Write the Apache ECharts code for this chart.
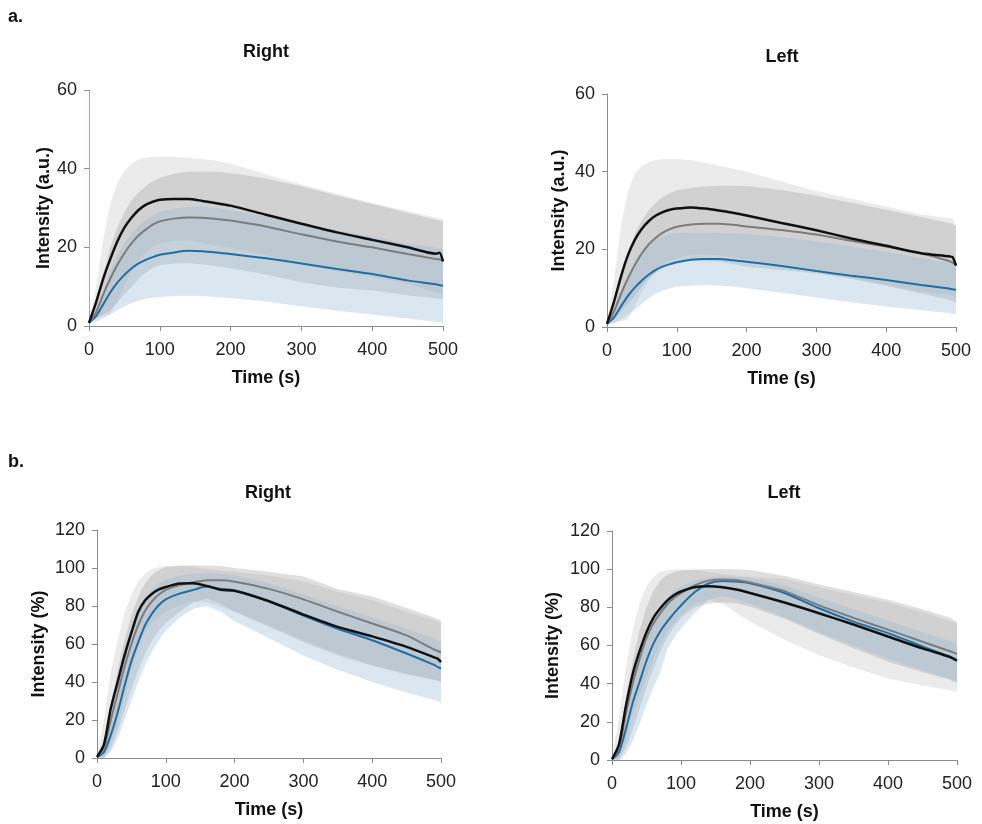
<!DOCTYPE html>
<html>
<head>
<meta charset="utf-8">
<script src="https://cdn.jsdelivr.net/npm/echarts@6/dist/echarts.min.js"></script>
<style>
  html, body { margin: 0; padding: 0; background: #fff; }
  #chart { width: 982px; height: 824px; }
</style>
</head>
<body>
<div id="chart"></div>
<script>
// time points (s), shared by all curves
var TIME = [0,10,20,30,40,50,60,70,80,90,100,120,140,160,180,200,250,300,350,400,450,490,495,500];

// ---- a / Right (a.u.) ----
var aR_black   = [0.8,6,12,17,21.5,25,27.5,29.5,30.8,31.6,32.1,32.3,32.3,31.8,31.2,30.6,28.3,26,23.8,21.9,20,18.4,18.6,16.4];
var aR_blackUp = [0.8,10,22,31,36.5,39.5,41.3,42.3,42.8,43,43.1,43,42.8,42.4,42,41.3,38.6,36,33.6,31.3,29.2,27.6,27.4,27.2];
var aR_blackLo = [0.8,2,2.5,3,6.5,10.5,13.7,16.7,18.8,20.2,21.1,21.6,21.8,21.2,20.4,19.9,18,16,14,12.5,10.8,8.5,8.3,8.1];
var aR_grey    = [0.8,3.5,8,12,15.5,18.5,21,23,24.5,25.8,26.6,27.3,27.6,27.5,27.2,26.8,25.3,23.3,21.5,20,18.3,17,16.9,16.7];
var aR_greyUp  = [0.8,5,13,20,25,29,32,34,35.5,36.8,37.7,38.7,39.2,39.3,39.2,38.9,37.5,35.5,33.2,31,28.8,27,26.8,26.6];
var aR_greyLo  = [0.8,2,3,4,6,8,10,12,13.5,14.8,15.5,15.9,16,15.7,15.2,14.7,13.1,11.1,9.8,9,7.8,7,7,6.8];
var aR_blue    = [0.8,2.5,5.5,8.5,11,13,14.6,15.9,16.8,17.5,18.1,18.7,19.1,19,18.7,18.3,17.2,15.9,14.5,13.2,11.6,10.6,10.4,10.2];
var aR_blueUp  = [0.8,4,9,14,18,21,23.5,25.5,27,28,29,29.8,30.3,30.3,30,29.5,27.8,26,24.3,22.7,21,19.9,19.8,19.6];
var aR_blueLo  = [0.8,1,2,3,4,5,5.8,6.4,6.9,7.2,7.4,7.6,7.7,7.6,7.4,7.1,6.2,5,3.9,2.9,1.9,1.1,1,0.8];

// ---- a / Left (a.u.) ----
var aL_black   = [0.8,6.5,13,18.5,22.5,25.3,27.3,28.7,29.6,30.2,30.5,30.8,30.5,30,29.4,28.7,26.8,24.9,22.8,20.9,19,18.2,18,15.8];
var aL_blackUp = [0.8,12,26,35,39.5,41.5,42.5,43,43.2,43.2,43.2,43,42.3,41.5,40.8,40,37.5,35,33,31,29,28,28,26];
var aL_blackLo = [0.8,1,1.5,2,5.5,9,12,14.4,16,17.2,17.8,18.6,18.7,18.5,18,17.4,16.1,14.8,12.6,10.8,9,8.4,8,7.6];
var aL_grey    = [0.8,4,8.5,12.5,16,19,21.3,23,24.3,25.2,25.8,26.4,26.6,26.6,26.3,25.9,25,23.8,22.2,20.7,19,17,16.6,16];
var aL_greyUp  = [0.8,6,13,19,24,27.5,30,32,33.5,34.5,35.2,35.8,36.2,36.4,36.4,36.3,35.3,33.8,32,30.2,28.3,26.8,26.5,26];
var aL_greyLo  = [0.8,2,4,6,8,10.5,12.6,14,15.1,15.9,16.4,17,17,16.8,16.2,15.5,14.7,13.8,12.4,10.6,8.6,7,6.6,6.2];
var aL_blue    = [0.8,2.5,5.3,8,10.2,12,13.5,14.7,15.6,16.2,16.7,17.3,17.5,17.5,17.2,16.8,15.7,14.4,13.2,12.1,10.8,9.9,9.7,9.6];
var aL_blueUp  = [0.8,4,9,13.5,17,19.5,21.3,22.6,23.4,23.9,24.2,24.3,24.3,24.2,24.1,24,23.2,22,20.7,19.3,17.8,16.5,16.2,16];
var aL_blueLo  = [0.8,1,2,3,4.5,6,7.5,8.6,9.4,10,10.4,10.7,10.8,10.7,10.4,10,8.8,7.6,6.4,5.3,4.3,3.6,3.4,3.2];

// ---- b / Right (%) ----
var bR_black   = [0.5,7,26,40,54,66,77,83,86.5,88.7,90,91.8,92,90.5,88.5,88,82.5,75.5,69,64,58.5,53,52.3,50.5];
var bR_blackUp = [0.5,20,45,62,76,86,93,97,99.5,100.5,101,101,100.5,99.5,98.5,98,96,93,87.5,83,77,72.5,71.8,71];
var bR_blackLo = [0.5,0,7,18,32,46,58,66,71,74.5,77,80.5,82.5,82,79.5,77,70,62,55,49,44.5,41.5,41,40];
var bR_grey    = [0.5,5,20,34,48,60,70,77.5,82.5,86,88.5,91,92.5,93.5,93.5,92.8,89,83.5,77,70.8,64.5,57,56.3,55.5];
var bR_greyUp  = [0.5,8,28,46,62,75,85,92,96.5,99,100.5,101.3,101.5,101.3,101,100,98,95.5,89,85,79,74,73.2,72.4];
var bR_greyLo  = [0.5,0,5,14,25,36,46,55,62,67,71,77,82,84,81,77,69,61,54,48.5,44,41,40.5,40];
var bR_blue    = [0.3,3,12,24,38,51,61,70,76,80.5,83.5,86.5,88.5,90.2,89,88.2,82.5,75,68,62,55,49,48,47];
var bR_blueUp  = [0.3,6,22,38,54,67,77,84,89,92,94,96,97,97.5,97,96,92,86,80,74,68,63,62,61];
var bR_blueLo  = [0.3,0,3,10,20,30,40,49,56,62,67,74,78.5,80,77,72,63,54,46.5,40,34.5,30.5,30,29];

// ---- b / Left (%) ----
var bL_black   = [0.5,8,28,45,57,67,74.5,79.5,83.5,86.5,88.3,90.5,91,90.5,89.3,87.5,82.5,76.9,71,64.7,58.5,54,53,52];
var bL_blackUp = [0.5,22,48,68,82,91,96,98.5,99.5,100,100,99.5,98.5,97.5,96.5,96,95,90.5,86.5,82.5,77.5,73,72.2,71.5];
var bL_blackLo = [0.5,0,10,24,34,44,53,61,67,72,76,82,84,82,77,72.5,63,55,48.5,42.7,39,36.5,36,35.8];
var bL_grey    = [0.5,6,24,40,53,64,71.5,77,81.5,85,87.5,91.5,94,94.6,94.3,93,88.5,81,74.5,68.3,62,57,56.3,55.6];
var bL_greyUp  = [0.5,10,32,52,68,80,88.5,94,97,98.5,99.3,99.8,100,100,100,99.6,96.5,92,88,84,79,74.5,73.5,72.5];
var bL_greyLo  = [0.5,0,6,16,27,38,48,57,64,70,74.5,80,82,82.5,82,80.5,74,66,58.5,51.5,46,42,41,40.3];
var bL_blue    = [0.3,4,16,30,41,52,61,67.5,72.5,77,81,88,92.5,93.8,93.5,92.6,87.5,79.5,72.5,66.5,59.5,54,53.3,52.5];
var bL_blueUp  = [0.3,6,22,38,52,64,73,80,85,88.5,91,94,95.5,96,96,95.5,91.5,85,79,73,67,62.5,62,61];
var bL_blueLo  = [0.3,0,3,10,19,29,38,46,58,64,69,77,84,86,84.5,82,75,67,60,53,47,42.5,42,41.5];

var FONT = "'Liberation Sans', Arial, sans-serif";
var BLACK = '#111111', GREY = '#7c7c7c', BLUE = '#1f6ea6';
var BAND_BLACK = 'rgba(190,190,190,0.3)';
var BAND_GREY = 'rgba(150,150,150,0.3)';
var BAND_BLUE = 'rgba(150,185,215,0.35)';

function pairs(arr) {
    return TIME.map(function (t, i) { return [t, arr[i]]; });
}

// shaded band between lo and up, drawn as a polygon through the axis scale
function band(g, lo, up, color) {
    return {
        type: 'custom', xAxisIndex: g, yAxisIndex: g, silent: true, z: 1,
        data: [0],
        renderItem: function (params, api) {
            var pts = [];
            for (var i = 0; i < TIME.length; i++) pts.push(api.coord([TIME[i], up[i]]));
            for (var j = TIME.length - 1; j >= 0; j--) pts.push(api.coord([TIME[j], lo[j]]));
            return { type: 'polygon', shape: { points: pts }, style: { fill: color } };
        }
    };
}

function mean(g, arr, color, w) {
    return {
        type: 'line', xAxisIndex: g, yAxisIndex: g, data: pairs(arr),
        symbol: 'none', smooth: 0.25, silent: true,
        lineStyle: { color: color, width: w }, z: 3
    };
}

var grids = [
    { left: 89,  top: 90,  width: 354, height: 236 },
    { left: 607, top: 94,  width: 349, height: 233 },
    { left: 97,  top: 530, width: 344, height: 228 },
    { left: 612, top: 531, width: 345, height: 229 }
];
var yNames = ['Intensity (a.u.)', 'Intensity (a.u.)', 'Intensity (%)', 'Intensity (%)'];
var yMax = [60, 60, 120, 120];
var yGap = [36, 39, 49, 50];

var xAxes = [], yAxes = [];
for (var g = 0; g < 4; g++) {
    var lineCol = g == 0 ? '#b8a09c' : '#8c8c8c';
    xAxes.push({
        type: 'value', gridIndex: g, min: 0, max: 500, interval: 100,
        name: 'Time (s)', nameLocation: 'middle', nameGap: 43,
        nameTextStyle: { fontFamily: FONT, fontWeight: 'bold', fontSize: 18, color: '#111' },
        axisLine: { show: true, lineStyle: { color: '#8c8c8c', width: 1 } },
        axisTick: { show: true, inside: false, length: 5, lineStyle: { color: '#8c8c8c' } },
        axisLabel: { fontFamily: FONT, fontSize: 18, color: '#222', margin: 15 },
        splitLine: { show: false }
    });
    yAxes.push({
        type: 'value', gridIndex: g, min: 0, max: yMax[g], interval: 20,
        name: yNames[g], nameLocation: 'middle', nameGap: yGap[g], nameRotate: 90,
        nameTextStyle: { fontFamily: FONT, fontWeight: 'bold', fontSize: 18, color: '#111' },
        axisLine: { show: true, lineStyle: { color: lineCol, width: 1 } },
        axisTick: { show: true, inside: false, length: 5, lineStyle: { color: '#8c8c8c' } },
        axisLabel: { fontFamily: FONT, fontSize: 18, color: '#222', margin: 12 },
        splitLine: { show: false }
    });
}

var panels = [
    [aR_black, aR_blackUp, aR_blackLo, aR_grey, aR_greyUp, aR_greyLo, aR_blue, aR_blueUp, aR_blueLo],
    [aL_black, aL_blackUp, aL_blackLo, aL_grey, aL_greyUp, aL_greyLo, aL_blue, aL_blueUp, aL_blueLo],
    [bR_black, bR_blackUp, bR_blackLo, bR_grey, bR_greyUp, bR_greyLo, bR_blue, bR_blueUp, bR_blueLo],
    [bL_black, bL_blackUp, bL_blackLo, bL_grey, bL_greyUp, bL_greyLo, bL_blue, bL_blueUp, bL_blueLo]
];

var series = [];
panels.forEach(function (p, g) {
    series.push(band(g, p[2], p[1], BAND_BLACK));
    series.push(band(g, p[5], p[4], BAND_GREY));
    series.push(band(g, p[8], p[7], BAND_BLUE));
    series.push(mean(g, p[6], BLUE, 2));
    series.push(mean(g, p[3], GREY, 2));
    series.push(mean(g, p[0], BLACK, 2.5));
});

function txt(x, y, s, size, align) {
    return {
        type: 'text', x: x, y: y, silent: true,
        style: { text: s, font: 'bold ' + size + 'px ' + FONT, fill: '#111',
                 textAlign: align || 'center', textVerticalAlign: 'middle' }
    };
}

var myChart = echarts.init(document.getElementById('chart'), null, { renderer: 'canvas' });
myChart.setOption({
    animation: false,
    backgroundColor: '#fff',
    grid: grids,
    xAxis: xAxes,
    yAxis: yAxes,
    series: series,
    graphic: [
        txt(8, 17, 'a.', 18, 'left'),
        txt(8, 462, 'b.', 18, 'left'),
        txt(266, 52, 'Right', 18),
        txt(782, 57, 'Left', 18),
        txt(268, 493, 'Right', 18),
        txt(784, 493, 'Left', 18)
    ]
});
</script>
</body>
</html>
